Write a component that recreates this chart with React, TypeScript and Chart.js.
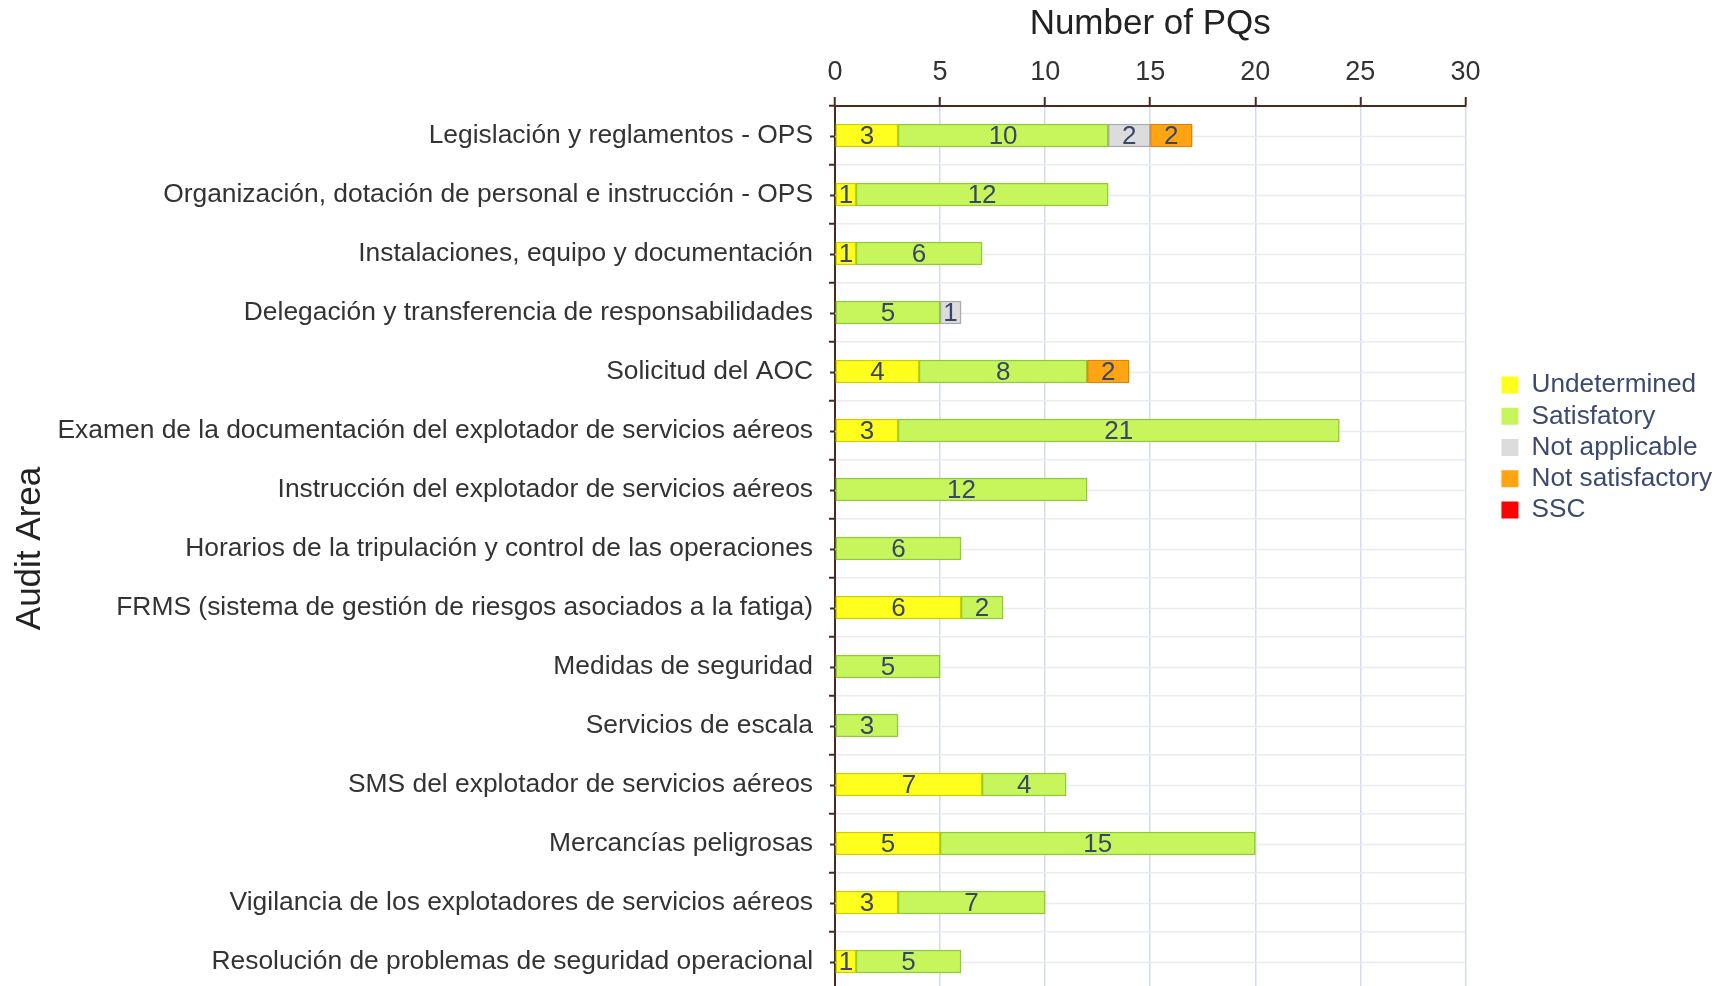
import React, { useEffect, useRef } from "react";
import { Chart, registerables } from "chart.js";

Chart.register(...registerables);

const categories = [
  "Legislación y reglamentos - OPS",
  "Organización, dotación de personal e instrucción - OPS",
  "Instalaciones, equipo y documentación",
  "Delegación y transferencia de responsabilidades",
  "Solicitud del AOC",
  "Examen de la documentación del explotador de servicios aéreos",
  "Instrucción del explotador de servicios aéreos",
  "Horarios de la tripulación y control de las operaciones",
  "FRMS (sistema de gestión de riesgos asociados a la fatiga)",
  "Medidas de seguridad",
  "Servicios de escala",
  "SMS del explotador de servicios aéreos",
  "Mercancías peligrosas",
  "Vigilancia de los explotadores de servicios aéreos",
  "Resolución de problemas de seguridad operacional",
];

const undetermined = [3, 1, 1, 0, 4, 3, 0, 0, 6, 0, 0, 7, 5, 3, 1];
const satisfactory = [10, 12, 6, 5, 8, 21, 12, 6, 2, 5, 3, 4, 15, 7, 5];
const notApplicable = [2, 0, 0, 1, 0, 0, 0, 0, 0, 0, 0, 0, 0, 0, 0];
const notSatisfactory = [2, 0, 0, 0, 2, 0, 0, 0, 0, 0, 0, 0, 0, 0, 0];
const ssc = [0, 0, 0, 0, 0, 0, 0, 0, 0, 0, 0, 0, 0, 0, 0];

const seriesNames = ["Undetermined", "Satisfatory", "Not applicable", "Not satisfactory", "SSC"];
const xMin = 0;
const xMax = 30;
const xStep = 5;

const FONT = "'Liberation Sans', Arial, sans-serif";
const AXIS = "#4a2a1e";

const centerLines = {
  id: "centerLines",
  beforeDatasetsDraw(chart: any) {
    const { ctx, chartArea, scales } = chart;
    const y = scales.y;
    ctx.save();
    categories.forEach((_, i) => {
      const py = Math.round(y.getPixelForValue(i)) + 0.5;
      ctx.strokeStyle = "#ebebeb";
      ctx.lineWidth = 1.5;
      ctx.beginPath();
      ctx.moveTo(chartArea.left, py);
      ctx.lineTo(chartArea.right, py);
      ctx.stroke();
      ctx.strokeStyle = AXIS;
      ctx.lineWidth = 2;
      ctx.beginPath();
      ctx.moveTo(chartArea.left - 5, py);
      ctx.lineTo(chartArea.left, py);
      ctx.stroke();
    });
    ctx.restore();
  },
};

const segmentLabels = {
  id: "segmentLabels",
  afterDatasetsDraw(chart: any) {
    const { ctx } = chart;
    ctx.save();
    ctx.font = `26px ${FONT}`;
    ctx.fillStyle = "#3a4668";
    ctx.textAlign = "center";
    ctx.textBaseline = "middle";
    chart.data.datasets.forEach((ds: any, di: number) => {
      const meta = chart.getDatasetMeta(di);
      meta.data.forEach((el: any, i: number) => {
        const v = ds.data[i];
        if (v == null || v === 0) return;
        ctx.fillText(String(v), (el.x + el.base) / 2, el.y + 1);
      });
    });
    ctx.restore();
  },
};

export default function App() {
  const ref = useRef<HTMLCanvasElement | null>(null);

  useEffect(() => {
    if (!ref.current) return;
    const series = [undetermined, satisfactory, notApplicable, notSatisfactory, ssc];
    const fills = ["#ffff1e", "#c6f55c", "#dcdcdc", "#ffa412", "#ff0000"];
    const borders = ["#cfcf00", "#8fcb35", "#ababab", "#e08400", "#cc0000"];
    const chart = new Chart(ref.current, {
      type: "bar",
      data: {
        labels: categories,
        datasets: series.map((s, k) => ({
          label: seriesNames[k],
          data: s.map((v) => (v === 0 ? null : v)),
          backgroundColor: fills[k],
          borderColor: borders[k],
          borderWidth: 1.5,
          borderSkipped: false,
          barThickness: 23,
        })),
      },
      options: {
        indexAxis: "y",
        animation: false,
        responsive: false,
        maintainAspectRatio: false,
        layout: { padding: { top: 0, left: 0, bottom: 0, right: 8 } },
        scales: {
          x: {
            position: "top",
            stacked: true,
            min: xMin,
            max: xMax,
            ticks: { stepSize: xStep, color: "#333", font: { family: FONT, size: 27 }, padding: 8 },
            grid: { color: "#d4dce9", lineWidth: 1.5, tickLength: 9, tickColor: AXIS, tickWidth: 2 },
            border: { color: AXIS, width: 2 },
            title: {
              display: true,
              text: "Number of PQs",
              color: "#222",
              font: { family: FONT, size: 35 },
              padding: { top: 3, bottom: 4 },
            },
            afterFit(s: any) {
              s.height = 106;
            },
          },
          y: {
            stacked: true,
            ticks: { color: "#333", font: { family: FONT, size: 26.4 }, padding: 16 },
            grid: { color: "#ebebeb", lineWidth: 1.5, tickLength: 6, tickColor: AXIS, tickWidth: 2 },
            border: { color: AXIS, width: 2 },
            title: {
              display: true,
              text: "Audit Area",
              color: "#222",
              font: { family: FONT, size: 35 },
              padding: { top: 9, bottom: 4 },
            },
            afterFit(s: any) {
              s.width = 835;
              s.paddingTop = 0;
              s.paddingBottom = 0;
            },
          },
          gap: {
            type: "linear",
            position: "right",
            display: true,
            grid: { display: false },
            ticks: { display: false },
            border: { display: false },
            afterFit(s: any) {
              s.width = 31;
            },
          },
        },
        plugins: {
          tooltip: { enabled: false },
          legend: {
            position: "right",
            align: "start",
            title: { display: true, text: " ", font: { size: 10 }, padding: { top: 355, bottom: 0 } },
            labels: {
              boxWidth: 17,
              boxHeight: 17,
              padding: 5,
              color: "#3b4a6e",
              font: { family: FONT, size: 26.2 },
              generateLabels(c: any) {
                return Chart.defaults.plugins.legend.labels
                  .generateLabels(c)
                  .map((l: any) => ({ ...l, lineWidth: 0 }));
              },
            },
          },
        },
      },
      plugins: [centerLines, segmentLabels],
    } as any);
    return () => chart.destroy();
  }, []);

  return (
    <div style={{ position: "absolute", left: 0, top: 0, width: 1730, height: 986, overflow: "hidden", background: "#fff" }}>
      <canvas ref={ref} width={1730} height={991} style={{ display: "block" }} />
    </div>
  );
}
